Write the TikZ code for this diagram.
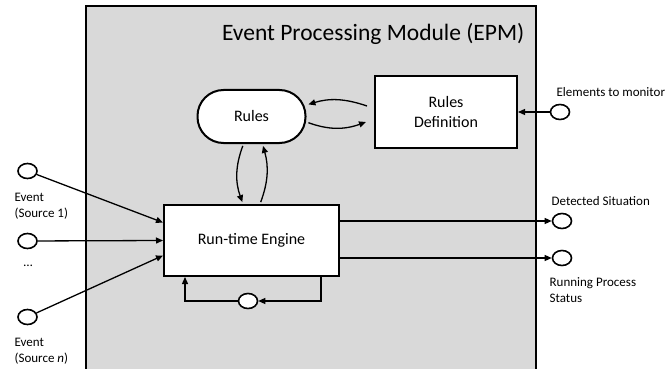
\documentclass[tikz,border=0pt]{standalone}
\usepackage{fontspec}
\setmainfont{Carlito}
\usetikzlibrary{arrows.meta,positioning,shapes.geometric}
\definecolor{epmgray}{HTML}{D9D9D9}

\begin{document}
\begin{tikzpicture}[x=1pt,y=-1pt,>={Triangle[length=7pt,width=6pt]},line width=1.3pt,node distance=124pt,on grid,
  every node/.style={font=\fontsize{16}{19}\selectfont},
  box/.style={draw,fill=white,line width=2pt,minimum width=175pt,minimum height=71pt,align=center},
  pill/.style={box,rounded corners=26pt,minimum width=108pt,minimum height=53pt},
  port/.style={draw,ellipse,fill=white,line width=1.6pt,minimum width=19pt,minimum height=15pt,inner sep=0pt},
  lbl/.style={font=\fontsize{13}{16}\selectfont,align=left,anchor=base west,inner sep=0pt}]
  \useasboundingbox (0,0) rectangle (667,369);

  \node[draw,fill=epmgray,line width=1.6pt,minimum width=450pt,minimum height=374pt,inner sep=0pt] (epm) at (311,193) {};
  \node[anchor=east,inner sep=0pt,font=\fontsize{23.5}{27}\selectfont] (ttl) at (525,34) {Event Processing Module (EPM)};

  \node[box] (eng) at (251.5,240.5) {Run-time Engine};
  \node[pill] (rules) [above=of eng] {Rules};
  \node[box,minimum width=142pt,minimum height=72pt,font=\fontsize{16}{20}\selectfont] (rdef) [above right=128.5pt and 194.5pt of eng] {Rules\\Definition};

  \node[port] (in1) at (27.5,171) {};
  \node[port] (in2) [below=70pt of in1] {};
  \node[port] (in3) [below=146pt of in1] {};
  \node[port] (out1) at (562,221) {};
  \node[port] (out2) [below=37pt of out1] {};
  \node[port] (mon) at (560,112) {};
  \node[port] (lp) at (248,301) {};

  % two-line labels sit on the baseline of their last line
  \node[lbl] (ev1) at (14,217) {Event\\(Source 1)};
  \node[lbl,anchor=center] (dots) at (28,266) {\ldots};
  \node[lbl] (evn) at (14,362) {Event\\(Source \textit{n})};
  \node[lbl] (det) at (551,205) {Detected Situation};
  \node[lbl] (run) at (549,302) {Running Process\\Status};
  \node[lbl] (elm) at (556,96) {Elements to monitor};

  \draw[->] (in1) -- ([yshift=18pt]eng.west);
  \draw[->] (in2) -- (eng.west);
  \draw[->] (in3) -- ([yshift=-15pt]eng.west);
  \draw[->] (eng.east |- out1) -- (out1);
  \draw[->] (eng.east |- out2) -- (out2);
  \draw[->] (mon) -- (mon -| rdef.east);
  \draw[->] ([xshift=-19pt]eng.south east) |- (lp);
  \draw[->] (lp) -| ([xshift=22pt]eng.south west);

  \draw[->,shorten >=2pt,shorten <=2pt] ([xshift=-8pt]rules.south) to[bend right=20] ([xshift=-8.5pt]eng.north);
  \draw[->,shorten >=2pt,shorten <=2pt] ([xshift=8.5pt]eng.north) to[bend right=18] ([xshift=11pt]rules.south);
  \draw[->,shorten >=2pt] ([xshift=-7pt,yshift=6pt]rdef.west) to[bend right=18] ([yshift=11.5pt]rules.east);
  \draw[->,shorten <=2pt] ([yshift=-5.5pt]rules.east) to[bend right=20] ([xshift=-8pt,yshift=-10pt]rdef.west);
\end{tikzpicture}
\end{document}
